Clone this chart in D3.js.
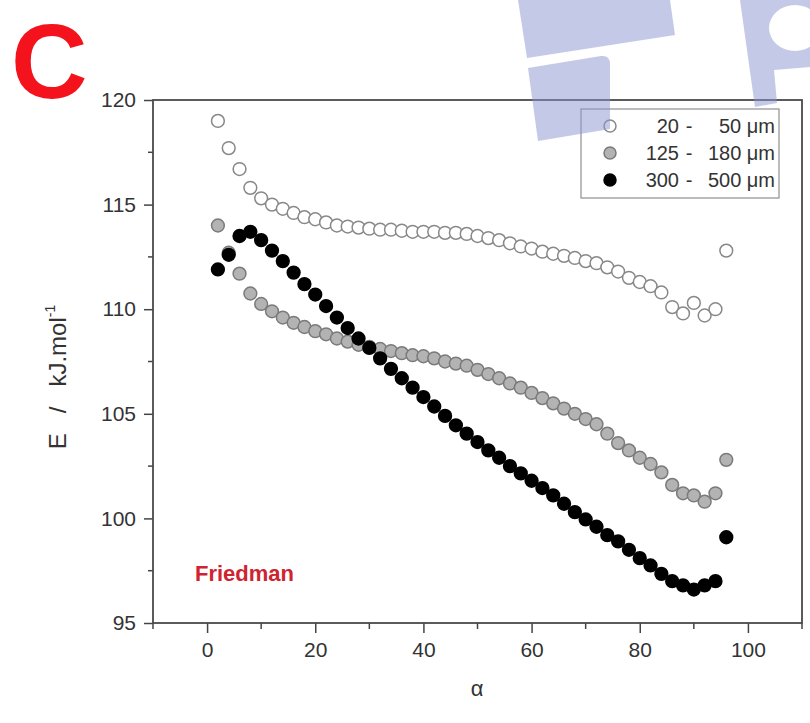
<!DOCTYPE html>
<html>
<head>
<meta charset="utf-8">
<script src="https://cdn.jsdelivr.net/npm/d3@7"></script>
<style>
  body { margin: 0; background: #fff; }
  svg { display: block; font-family: "Liberation Sans", Arial, sans-serif; }
</style>
</head>
<body>
<svg id="chart" width="810" height="723"></svg>
<script>
// conversion degree alpha (%)
const alpha = [2, 4, 6, 8, 10, 12, 14, 16, 18, 20, 22, 24, 26, 28, 30, 32, 34, 36, 38, 40,
  42, 44, 46, 48, 50, 52, 54, 56, 58, 60, 62, 64, 66, 68, 70, 72, 74, 76, 78, 80,
  82, 84, 86, 88, 90, 92, 94, 96];

// activation energy, kJ/mol, per particle size
const e20to50 = [119.0, 117.7, 116.7, 115.8, 115.3, 115.0, 114.8, 114.6, 114.4, 114.3,
  114.15, 114.0, 113.95, 113.9, 113.85, 113.8, 113.8, 113.75, 113.7, 113.7,
  113.7, 113.65, 113.65, 113.6, 113.5, 113.4, 113.3, 113.15, 113.0, 112.9,
  112.75, 112.65, 112.55, 112.45, 112.3, 112.2, 112.0, 111.8, 111.5, 111.3,
  111.1, 110.8, 110.1, 109.8, 110.3, 109.7, 110.0, 112.8];

const e125to180 = [114.0, 112.7, 111.7, 110.75, 110.25, 109.9, 109.6, 109.35, 109.15, 108.95,
  108.8, 108.6, 108.45, 108.3, 108.2, 108.1, 108.0, 107.9, 107.8, 107.75,
  107.65, 107.5, 107.4, 107.3, 107.1, 106.9, 106.7, 106.45, 106.25, 106.0,
  105.75, 105.5, 105.25, 105.0, 104.75, 104.5, 104.05, 103.6, 103.25, 102.9,
  102.6, 102.2, 101.6, 101.2, 101.1, 100.8, 101.2, 102.8];

const e300to500 = [111.9, 112.6, 113.5, 113.7, 113.3, 112.8, 112.3, 111.75, 111.2, 110.7,
  110.15, 109.6, 109.1, 108.6, 108.15, 107.65, 107.15, 106.7, 106.25, 105.8,
  105.35, 104.9, 104.45, 104.05, 103.65, 103.25, 102.9, 102.5, 102.15, 101.8,
  101.45, 101.1, 100.7, 100.3, 99.95, 99.6, 99.2, 98.9, 98.5, 98.1,
  97.75, 97.35, 97.0, 96.8, 96.6, 96.8, 97.0, 99.1];

const xTicks = [0, 20, 40, 60, 80, 100];
const xMinor = [-10, 10, 30, 50, 70, 90, 110];
const yTicks = [95, 100, 105, 110, 115, 120];
const yMinor = [97.5, 102.5, 107.5, 112.5, 117.5];

const legendFirst = ["20", "125", "300"];
const legendSecond = ["50 μm", "180 μm", "500 μm"];

const series = [
  { values: e20to50, fill: "#ffffff", stroke: "#888" },
  { values: e125to180, fill: "#b3b3b3", stroke: "#7a7a7a" },
  { values: e300to500, fill: "#000000", stroke: "#000" }
];

const svg = d3.select("#chart");
const pLeft = 153, pRight = 802, pTop = 100, pBottom = 623;

const x = d3.scaleLinear().domain([-10, 110]).range([pLeft, pRight]);
const y = d3.scaleLinear().domain([95, 120]).range([pBottom, pTop]);

// panel letter
svg.append("text")
  .attr("x", 11).attr("y", 98)
  .attr("font-size", 106).attr("font-weight", "bold")
  .attr("fill", "#f4121c")
  .text("C");

// minor ticks
svg.append("g").selectAll("line").data(xMinor).enter().append("line")
  .attr("x1", d => x(d)).attr("x2", d => x(d))
  .attr("y1", pBottom).attr("y2", pBottom + 6)
  .attr("stroke", "#444").attr("stroke-width", 1.5);
svg.append("g").selectAll("line").data(yMinor).enter().append("line")
  .attr("x1", pLeft - 5).attr("x2", pLeft)
  .attr("y1", d => y(d)).attr("y2", d => y(d))
  .attr("stroke", "#444").attr("stroke-width", 1.5);

// axes
const xAxis = svg.append("g")
  .attr("transform", `translate(0,${pBottom})`)
  .call(d3.axisBottom(x).tickValues(xTicks).tickSize(10).tickSizeOuter(0).tickPadding(9));
const yAxis = svg.append("g")
  .attr("transform", `translate(${pLeft},0)`)
  .call(d3.axisLeft(y).tickValues(yTicks).tickSize(9).tickSizeOuter(0).tickPadding(8));

[xAxis, yAxis].forEach(g => {
  g.select(".domain").remove();
  g.selectAll(".tick line").attr("stroke", "#444").attr("stroke-width", 1.5);
  g.selectAll(".tick text").attr("font-size", 21).attr("fill", "#333")
    .attr("font-family", "'Liberation Sans', Arial, sans-serif");
});

// frame
svg.append("rect")
  .attr("x", pLeft).attr("y", pTop)
  .attr("width", pRight - pLeft).attr("height", pBottom - pTop)
  .attr("fill", "none").attr("stroke", "#4a4a4a").attr("stroke-width", 1.8);

// axis titles
svg.append("text")
  .attr("x", 477).attr("y", 696)
  .attr("text-anchor", "middle").attr("font-size", 22).attr("fill", "#333")
  .text("α");

const yl = svg.append("text")
  .attr("transform", "translate(66,377) rotate(-90)")
  .attr("text-anchor", "middle").attr("font-size", 24).attr("fill", "#333")
  .attr("xml:space", "preserve");
yl.append("tspan").text("E   /   kJ.mol");
yl.append("tspan").attr("font-size", 14).attr("dy", -11).text("-1");

// method label
svg.append("text")
  .attr("x", 195).attr("y", 581)
  .attr("font-size", 22).attr("font-weight", "bold")
  .attr("fill", "#cf2430")
  .text("Friedman");

// points
series.forEach(s => {
  svg.append("g").selectAll("circle")
    .data(alpha.map((a, i) => [a, s.values[i]]))
    .enter().append("circle")
    .attr("cx", d => x(d[0]))
    .attr("cy", d => y(d[1]))
    .attr("r", 6.4)
    .attr("fill", s.fill)
    .attr("stroke", s.stroke)
    .attr("stroke-width", 1.5);
});

// legend
svg.append("rect")
  .attr("x", 581).attr("y", 109).attr("width", 198).attr("height", 89)
  .attr("fill", "#fff").attr("stroke", "#999").attr("stroke-width", 1.3);

const leg = svg.append("g").selectAll("g").data(series).enter().append("g")
  .attr("transform", (d, i) => `translate(0,${126 + i * 27})`);
leg.append("circle")
  .attr("cx", 610).attr("cy", 0).attr("r", 6)
  .attr("fill", d => d.fill).attr("stroke", d => d.stroke).attr("stroke-width", 1.5);
leg.append("text")
  .attr("x", 679).attr("y", 7).attr("text-anchor", "end")
  .attr("font-size", 20).attr("fill", "#333")
  .text((d, i) => legendFirst[i]);
leg.append("text")
  .attr("x", 689).attr("y", 7).attr("text-anchor", "middle")
  .attr("font-size", 20).attr("fill", "#333")
  .text("-");
leg.append("text")
  .attr("x", 775).attr("y", 7).attr("text-anchor", "end")
  .attr("font-size", 20).attr("fill", "#333")
  .text((d, i) => legendSecond[i]);

// watermark shapes over the chart
const wm = svg.append("g").attr("fill", "#8a94cf").attr("fill-opacity", 0.5);
wm.append("path").attr("d", "M518,0 L670,0 L675,35 L527,58 Z");
wm.append("path").attr("d", "M528,68 L601,56 Q610,55 610,64 L610,129 L538,141 Z");
wm.append("path")
  .attr("fill-rule", "evenodd")
  .attr("d", "M740,0 L810,0 L810,67 L774,70 L777,103 L755,107 Z " +
    "M769,28 A26,23 0 1,0 821,28 A26,23 0 1,0 769,28 Z");
</script>
</body>
</html>
